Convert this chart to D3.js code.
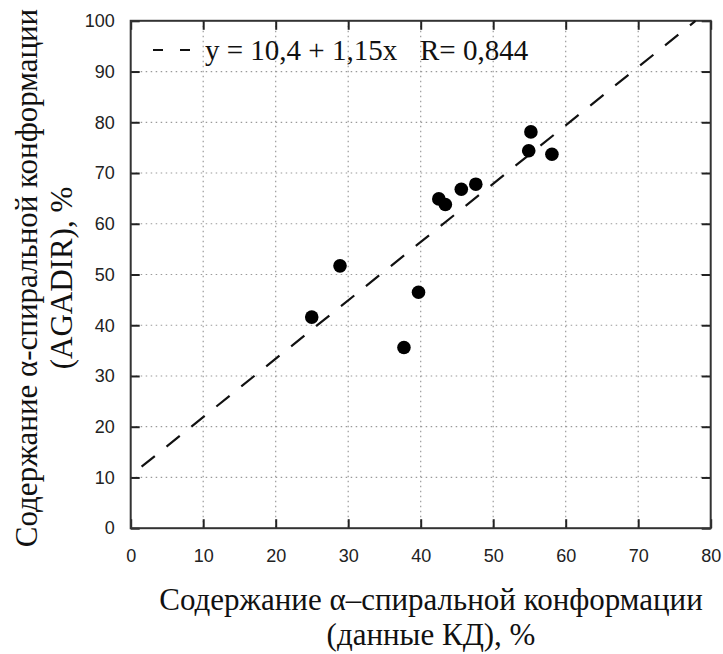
<!DOCTYPE html>
<html>
<head>
<meta charset="utf-8">
<script src="https://cdn.jsdelivr.net/npm/d3@7"></script>
<style>
  html, body { margin: 0; padding: 0; background: #fff; }
  svg { display: block; }
</style>
</head>
<body>
<svg id="chart" width="723" height="654"></svg>
<script>
// ---- data ----
const cdValues     = [24.97, 28.87, 37.69, 39.7, 42.5, 43.4, 45.6, 47.6, 55.2, 54.9, 58.1];
const agadirValues = [41.6, 51.7, 35.6, 46.5, 64.9, 63.8, 66.8, 67.8, 78.1, 74.4, 73.7];
const xTicks = [0, 10, 20, 30, 40, 50, 60, 70, 80];
const yTicks = [0, 10, 20, 30, 40, 50, 60, 70, 80, 90, 100];
const fitIntercept = 10.4;
const fitSlope = 1.15;
const fitRange = [1.5, 77.9];
const legendText = "y = 10,4 + 1,15x";
const legendR = "R= 0,844";
const xTitle = ["Содержание α–спиральной конформации", "(данные КД), %"];
const yTitle = ["Содержание α-спиральной конформации", "(AGADIR), %"];

// ---- layout ----
const svg = d3.select("#chart");
const L = 130.7, R = 710.7, T = 20.8, B = 528.2;
const x = d3.scaleLinear().domain([0, 80]).range([L, R]);
const y = d3.scaleLinear().domain([0, 100]).range([B, T]);
const serif = "'Liberation Serif', 'Times New Roman', serif";
const sans = "'Liberation Sans', Arial, sans-serif";

// grid
const grid = svg.append("g").attr("stroke", "#9a9a9a").attr("stroke-width", 1.2)
  .attr("stroke-dasharray", "1.5,3.5");
grid.selectAll("line.v").data(xTicks.filter(d => d > 0 && d < 80)).enter().append("line")
  .attr("x1", d => x(d)).attr("x2", d => x(d)).attr("y1", T).attr("y2", B);
grid.selectAll("line.h").data(yTicks.filter(d => d > 0 && d < 100)).enter().append("line")
  .attr("x1", L).attr("x2", R).attr("y1", d => y(d)).attr("y2", d => y(d));

// axes with inward ticks
const tickLen = 9;
const axB = svg.append("g").attr("transform", `translate(0,${B})`)
  .call(d3.axisBottom(x).tickValues(xTicks).tickSizeInner(-tickLen).tickSizeOuter(0).tickPadding(21));
const axL = svg.append("g").attr("transform", `translate(${L},0)`)
  .call(d3.axisLeft(y).tickValues(yTicks).tickSizeInner(-tickLen).tickSizeOuter(0).tickPadding(16));
const axT = svg.append("g").attr("transform", `translate(0,${T})`)
  .call(d3.axisTop(x).tickValues(xTicks).tickSizeInner(-tickLen).tickSizeOuter(0).tickFormat(""));
const axR = svg.append("g").attr("transform", `translate(${R},0)`)
  .call(d3.axisRight(y).tickValues(yTicks).tickSizeInner(-tickLen).tickSizeOuter(0).tickFormat(""));
[axB, axL, axT, axR].forEach(a => {
  a.select(".domain").remove();
  a.selectAll(".tick line").attr("stroke", "#222").attr("stroke-width", 2);
  a.selectAll(".tick text").attr("font-family", sans).attr("font-size", 18).attr("fill", "#222");
});
// frame
svg.append("rect").attr("x", L).attr("y", T).attr("width", R - L).attr("height", B - T)
  .attr("fill", "none").attr("stroke", "#333").attr("stroke-width", 2);

// fit line
svg.append("line")
  .attr("x1", x(fitRange[0])).attr("y1", y(fitIntercept + fitSlope * fitRange[0]))
  .attr("x2", x(fitRange[1])).attr("y2", y(fitIntercept + fitSlope * fitRange[1]))
  .attr("stroke", "#111").attr("stroke-width", 2.2).attr("stroke-dasharray", "17,15");

// points
svg.append("g").selectAll("circle").data(cdValues).enter().append("circle")
  .attr("cx", d => x(d)).attr("cy", (d, i) => y(agadirValues[i])).attr("r", 6.8)
  .attr("fill", "#000");

// legend
svg.append("line").attr("x1", 153).attr("x2", 191).attr("y1", 50).attr("y2", 50)
  .attr("stroke", "#111").attr("stroke-width", 2).attr("stroke-dasharray", "10,17");
svg.append("text").attr("x", 205).attr("y", 60).attr("font-family", serif).attr("font-size", 29)
  .attr("fill", "#111").text(legendText);
svg.append("text").attr("x", 420).attr("y", 60).attr("font-family", serif).attr("font-size", 29)
  .attr("fill", "#111").text(legendR);

// x title
const cx = 431;
svg.append("text").attr("x", cx).attr("y", 610).attr("text-anchor", "middle")
  .attr("font-family", serif).attr("font-size", 31).attr("fill", "#111").text(xTitle[0]);
svg.append("text").attr("x", cx).attr("y", 645).attr("text-anchor", "middle")
  .attr("font-family", serif).attr("font-size", 31).attr("fill", "#111").text(xTitle[1]);

// y title
const cy = 278;
svg.append("text").attr("transform", `translate(37,${cy}) rotate(-90)`).attr("text-anchor", "middle")
  .attr("font-family", serif).attr("font-size", 31).attr("fill", "#111").text(yTitle[0]);
svg.append("text").attr("transform", `translate(72,${cy}) rotate(-90)`).attr("text-anchor", "middle")
  .attr("font-family", serif).attr("font-size", 31).attr("fill", "#111").text(yTitle[1]);
</script>
</body>
</html>
